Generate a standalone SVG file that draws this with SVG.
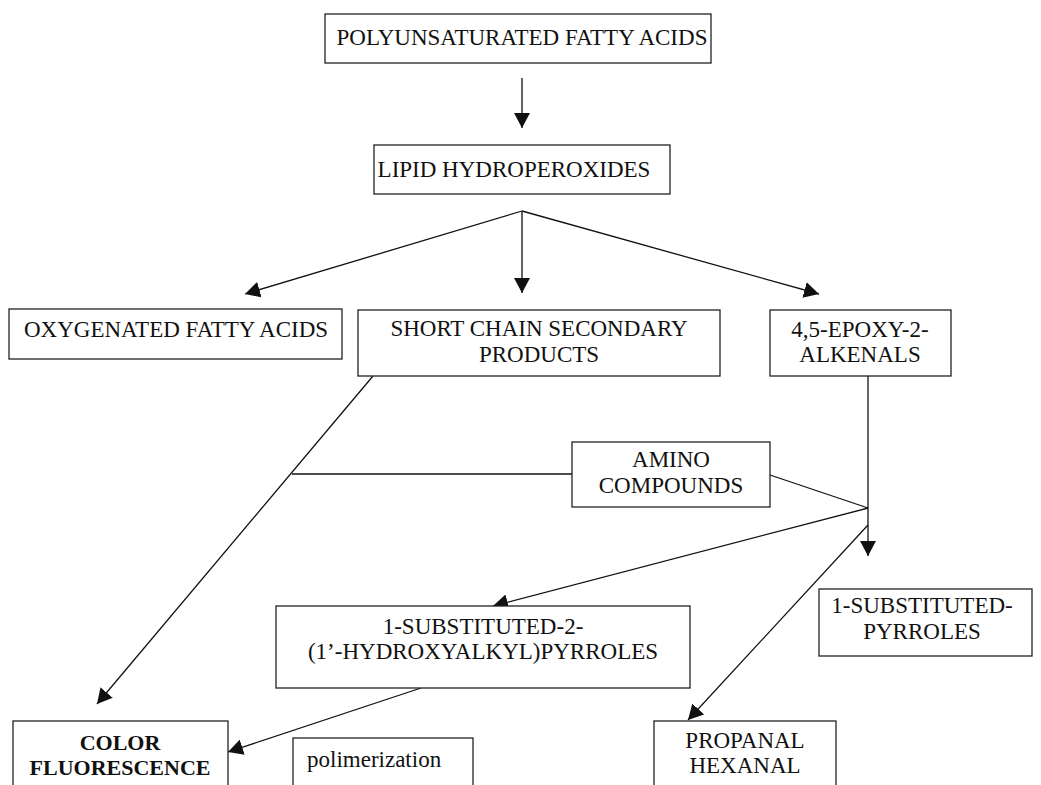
<svg xmlns="http://www.w3.org/2000/svg" width="1041" height="785" viewBox="0 0 1041 785">
<style>
.box{fill:#fff;stroke:#222;stroke-width:1.3}
.t{font-family:"Liberation Serif","Times New Roman",serif;font-size:23px;fill:#111;text-anchor:middle}
.b{font-weight:bold;font-size:22px}
.l{text-anchor:start}
.c{stroke:#111;stroke-width:1.3;fill:none}
</style>
<defs>
<marker id="ah" markerUnits="userSpaceOnUse" viewBox="0 0 15 16" refX="15" refY="8" markerWidth="15" markerHeight="16" orient="auto">
<path d="M0,0 L15,8 L0,16 z" fill="#111"/>
</marker>
</defs>
<rect width="1041" height="785" fill="#fff"/>
<g id="connectors">
<line class="c" x1="522" y1="78" x2="522" y2="128" marker-end="url(#ah)"/>
<line class="c" x1="522" y1="211" x2="245" y2="294" marker-end="url(#ah)"/>
<line class="c" x1="522" y1="211" x2="522" y2="293" marker-end="url(#ah)"/>
<line class="c" x1="522" y1="211" x2="819" y2="294" marker-end="url(#ah)"/>
<line class="c" x1="868" y1="376" x2="868" y2="556" marker-end="url(#ah)"/>
<line class="c" x1="770" y1="475" x2="868" y2="508"/>
<line class="c" x1="868" y1="508" x2="493" y2="606" marker-end="url(#ah)"/>
<line class="c" x1="868" y1="525" x2="688" y2="720" marker-end="url(#ah)"/>
<line class="c" x1="373" y1="376" x2="97" y2="704" marker-end="url(#ah)"/>
<line class="c" x1="292" y1="474" x2="572" y2="474"/>
<line class="c" x1="421" y1="688" x2="228" y2="752" marker-end="url(#ah)"/>
</g>
<g id="pufa">
<rect class="box" x="325" y="14" width="386" height="49"/>
<text class="t" x="522" y="45">POLYUNSATURATED FATTY ACIDS</text>
</g>
<g id="lipid">
<rect class="box" x="374" y="145" width="296" height="49"/>
<text class="t" x="514" y="177">LIPID HYDROPEROXIDES</text>
</g>
<g id="oxygenated">
<rect class="box" x="9" y="309" width="333" height="50"/>
<text class="t" x="176" y="337">OXYGENATED FATTY ACIDS</text>
</g>
<g id="shortchain">
<rect class="box" x="358" y="310" width="362" height="66"/>
<text class="t" x="539" y="336">SHORT CHAIN SECONDARY</text>
<text class="t" x="539" y="362">PRODUCTS</text>
</g>
<g id="epoxy">
<rect class="box" x="770" y="310" width="181" height="66"/>
<text class="t" x="860" y="337">4,5-EPOXY-2-</text>
<text class="t" x="860" y="362">ALKENALS</text>
</g>
<g id="amino">
<rect class="box" x="572" y="442" width="198" height="65"/>
<text class="t" x="671" y="467">AMINO</text>
<text class="t" x="671" y="493">COMPOUNDS</text>
</g>
<g id="hydroxyalkylpyrroles">
<rect class="box" x="276" y="606" width="414" height="82"/>
<text class="t" x="483" y="634">1-SUBSTITUTED-2-</text>
<text class="t" x="483" y="659">(1’-HYDROXYALKYL)PYRROLES</text>
</g>
<g id="pyrroles">
<rect class="box" x="819" y="589" width="213" height="67"/>
<text class="t" x="922" y="613">1-SUBSTITUTED-</text>
<text class="t" x="922" y="639">PYRROLES</text>
</g>
<g id="color">
<rect class="box" x="13" y="721" width="215" height="90"/>
<text class="t b" x="120" y="750">COLOR</text>
<text class="t b" x="120" y="775">FLUORESCENCE</text>
</g>
<g id="polimerization">
<rect class="box" x="293" y="738" width="180" height="70"/>
<text class="t l" x="307" y="767">polimerization</text>
</g>
<g id="propanal">
<rect class="box" x="654" y="721" width="182" height="90"/>
<text class="t" x="745" y="748">PROPANAL</text>
<text class="t" x="745" y="773">HEXANAL</text>
</g>
</svg>
